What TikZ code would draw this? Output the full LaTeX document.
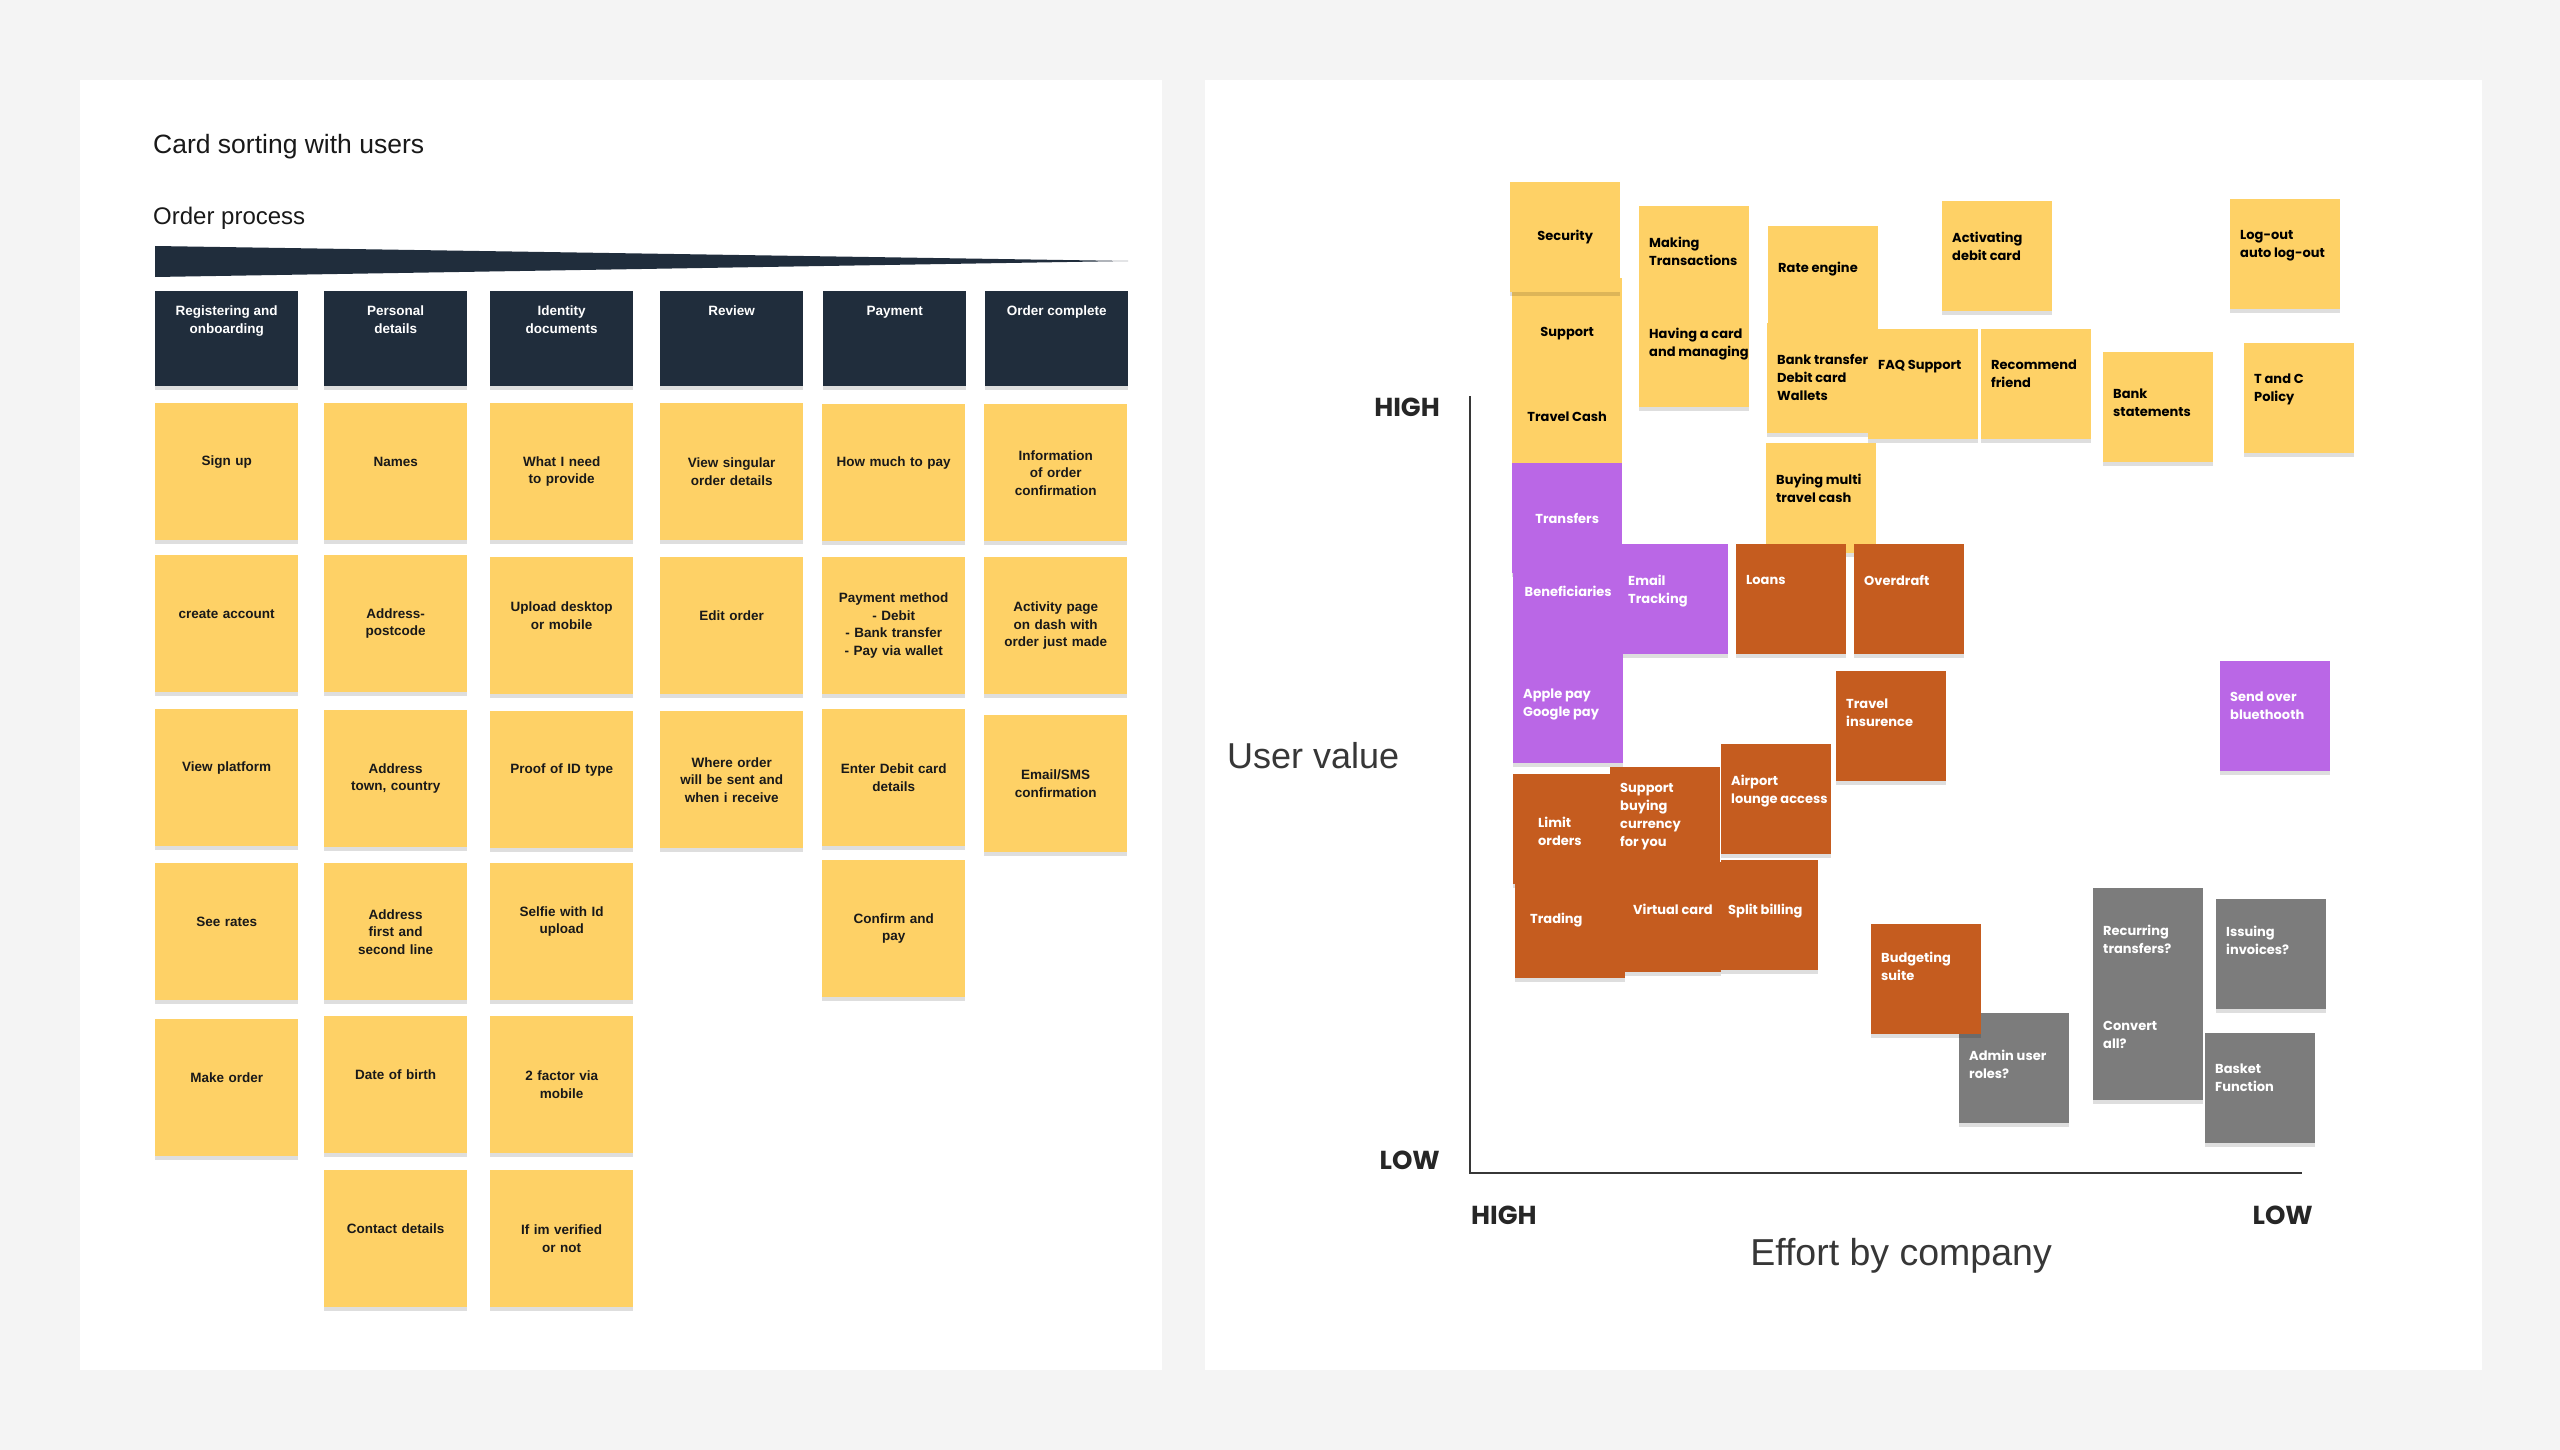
\documentclass[tikz,border=0pt]{standalone}
\usepackage{fontspec}
\setmainfont{Liberation Sans}
\newfontfamily\notefont{Poppins}
\usetikzlibrary{shadows}

\definecolor{bggray}{RGB}{244,244,244}
\definecolor{navy}{RGB}{32,45,60}
\definecolor{sticky}{RGB}{254,209,102}
\definecolor{notepurple}{RGB}{186,103,230}
\definecolor{noteorange}{RGB}{197,92,31}
\definecolor{notegray}{RGB}{124,124,124}
\definecolor{inkgray}{RGB}{55,55,55}

\tikzset{
  lift/.style={drop shadow={shadow xshift=0pt,shadow yshift=-4pt,opacity=.13,fill=black}},
  stagetext/.style={anchor=north,yshift=-15pt,inner sep=0pt,align=center,text=white,
    font=\fontsize{13.5}{17.5}\selectfont\bfseries},
  stage/.style={lift,fill=navy,anchor=north west,minimum width=143pt,minimum height=95pt,
    inner sep=0pt,label={[stagetext]north:{#1}}},
  cardtext/.style={anchor=center,inner sep=0pt,text width=135pt,align=center,text=black!90,
    font=\fontsize{13.5}{17.5}\selectfont\bfseries},
  cardbox/.style={lift,fill=sticky,anchor=north west,minimum width=143pt,minimum height=137pt,inner sep=0pt},
  card/.style={cardbox,label={[cardtext]center:{#1}}},
  cardhi/.style={cardbox,label={[cardtext,yshift=10pt]center:{#1}}},
  note/.style={lift,anchor=north west,minimum width=110pt,minimum height=110pt,inner sep=0pt,
    font=\notefont\fontsize{13}{18}\selectfont\bfseries},
  yel/.style={note,fill=sticky,text=black},
  pur/.style={note,fill=notepurple,text=white},
  ora/.style={note,fill=noteorange,text=white},
  gry/.style={note,fill=notegray,text=white},
  notetext/.style={anchor=north west,xshift=10pt,yshift=-31pt,inner sep=0pt,align=left,
    font=\notefont\fontsize{13}{18}\selectfont\bfseries},
  dk/.style={label={[notetext,text=black]north west:{#1}}},
  wt/.style={label={[notetext,text=white]north west:{#1}}},
  axislabel/.style={inner sep=0pt,text=black!85,font=\notefont\fontsize{26}{30}\selectfont\bfseries},
  axistitle/.style={inner sep=0pt,text=inkgray,font=\fontsize{36}{40}\selectfont},
  heading/.style={anchor=west,inner sep=0pt,text=black!90},
}

\begin{document}
\begin{tikzpicture}[x=1pt,y=-1pt]
\path[use as bounding box,fill=bggray] (0,0) rectangle (2560,1450);
\fill[white] (80,80) rectangle (1162,1370);
\fill[white] (1205,80) rectangle (2482,1370);

% card sorting
\node[heading,font=\fontsize{26.5}{30}\selectfont] (title) at (153,147) {Card sorting with users};
\node[heading,font=\fontsize{24}{28}\selectfont] (order) at (153,218) {Order process};
\fill[navy] (155,246) -- (1128,261) -- (155,277) -- cycle;

\node[stage={Registering and\\onboarding}] (reg) at (155,291) {};
\node[stage={Personal\\details}] (pers) at (324,291) {};
\node[stage={Identity\\documents}] (ident) at (490,291) {};
\node[stage={Review}] (review) at (660,291) {};
\node[stage={Payment}] (pay) at (823,291) {};
\node[stage={Order complete}] (done) at (985,291) {};

\node[cardhi={Sign up}] (signup) at (155,403) {};
\node[cardhi={create account}] (create) at (155,555) {};
\node[cardhi={View platform}] (platform) at (155,709) {};
\node[cardhi={See rates}] (rates) at (155,863) {};
\node[cardhi={Make order}] (makeorder) at (155,1019) {};

\node[cardhi={Names}] (names) at (324,403) {};
\node[card={Address-\\postcode}] (postcode) at (324,555) {};
\node[card={Address\\town, country}] (town) at (324,710) {};
\node[card={Address\\first and\\second line}] (lines) at (324,863) {};
\node[cardhi={Date of birth}] (birth) at (324,1016) {};
\node[cardhi={Contact details}] (contact) at (324,1170) {};

\node[card={What I need\\to provide}] (provide) at (490,403) {};
\node[cardhi={Upload desktop\\or mobile}] (upload) at (490,557) {};
\node[cardhi={Proof of ID type}] (proof) at (490,711) {};
\node[cardhi={Selfie with Id\\upload}] (selfie) at (490,863) {};
\node[card={2 factor via\\mobile}] (twofa) at (490,1016) {};
\node[card={If im verified\\or not}] (verified) at (490,1170) {};

\node[card={View singular\\order details}] (singular) at (660,403) {};
\node[cardhi={Edit order}] (edit) at (660,557) {};
\node[card={Where order\\will be sent and\\when i receive}] (where) at (660,711) {};

\node[cardhi={How much to pay}] (howmuch) at (822,404) {};
\node[card={Payment method\\- Debit\\- Bank transfer\\- Pay via wallet}] (method) at (822,557) {};
\node[card={Enter Debit card\\details}] (debit) at (822,709) {};
\node[card={Confirm and\\pay}] (confirm) at (822,860) {};

\node[card={Information\\of order\\confirmation}] (info) at (984,404) {};
\node[card={Activity page\\on dash with\\order just made}] (activity) at (984,557) {};
\node[card={Email/SMS\\confirmation}] (sms) at (984,715) {};

% value vs effort
\coordinate (ytop) at (1470,396);
\coordinate (xend) at (2302,1173);
\draw[inkgray,line width=2.5pt] (ytop) |- (xend);
\node[axislabel,anchor=east] (vhigh) at (1440,407) {HIGH};
\node[axislabel,anchor=east] (vlow) at (1440,1160) {LOW};
\node[axislabel,anchor=west] (hhigh) at (1471,1215) {HIGH};
\node[axislabel,anchor=east] (hlow) at (2313,1215) {LOW};
\node[axistitle,anchor=west] (uval) at (1227,756) {User value};
\node[axistitle,font=\fontsize{37.5}{40}\selectfont] (effort) at (1901,1256) {Effort by company};

\node[yel] (supp) at (1512,278) {Support};
\node[yel] (cash) at (1512,362) {Travel Cash};
\node[yel] (secu) at (1510,182) {Security};
\node[yel,dk={Making\\Transactions}] (making) at (1639,206) {};
\node[yel,dk={Having a card\\and managing}] (having) at (1639,297) {};
\node[yel,label={[notetext,text=black,yshift=-5pt]north west:Rate engine}] (rate) at (1768,226) {};
\node[yel,dk={Bank transfer\\Debit card\\Wallets}] (bank) at (1767,323) {};
\node[yel,dk={FAQ Support}] (faq) at (1868,329) {};
\node[yel,dk={Recommend\\friend}] (reco) at (1981,329) {};
\node[yel,dk={Activating\\debit card}] (actv) at (1942,201) {};
\node[yel,dk={Log-out\\auto log-out}] (logout) at (2230,199) {};
\node[yel,label={[notetext,text=black,yshift=-6pt]north west:{Bank\\statements}}] (stmt) at (2103,352) {};
\node[yel,dk={T and C\\Policy}] (tandc) at (2244,343) {};
\node[yel,dk={Buying multi\\travel cash}] (buying) at (1766,443) {};

\node[pur] (trans) at (1512,463) {Transfers};
\node[pur,label={[notetext,text=white,anchor=north,xshift=-10pt,yshift=-2pt]north:Beneficiaries}] (bene) at (1513,553) {};
\node[pur,wt={Email\\Tracking}] (email) at (1618,544) {};
\node[pur,label={[notetext,text=white,yshift=-5pt]north west:{Apple pay\\Google pay}}] (apple) at (1513,653) {};
\node[pur,wt={Send over\\bluethooth}] (blue) at (2220,661) {};

\node[ora,wt={Loans}] (loans) at (1736,544) {};
\node[ora,wt={Overdraft}] (over) at (1854,544) {};
\node[ora,label={[notetext,text=white,yshift=3pt]north west:{Travel\\insurence}}] (insur) at (1836,671) {};
\node[ora,label={[notetext,text=white,xshift=15pt,yshift=-12pt]north west:{Limit\\orders}}] (limit) at (1513,774) {};
\node[ora,label={[notetext,text=white,yshift=15pt]north west:{Support\\buying\\currency\\for you}}] (curr) at (1610,767) {};
\node[ora,wt={Airport\\lounge access}] (lounge) at (1721,744) {};
\node[ora,label={[notetext,text=white,xshift=5pt,yshift=-14pt]north west:Trading}] (trading) at (1515,868) {};
\node[ora,minimum width=96pt,label={[notetext,text=white,xshift=-2pt,yshift=-11pt]north west:Virtual card}] (virtual) at (1625,862) {};
\node[ora,minimum width=97pt,label={[notetext,text=white,xshift=-3pt,yshift=-13pt]north west:Split billing}] (split) at (1721,860) {};

\node[gry,label={[notetext,text=white,yshift=-6pt]north west:{Admin user\\roles?}}] (admin) at (1959,1013) {};
\node[ora,label={[notetext,text=white,yshift=3pt]north west:{Budgeting\\suite}}] (budget) at (1871,924) {};
\node[gry,label={[notetext,text=white,yshift=-6pt]north west:{Recurring\\transfers?}}] (recur) at (2093,888) {};
\node[gry,wt={Convert\\all?}] (convert) at (2093,990) {};
\node[gry,label={[notetext,text=white,yshift=4pt]north west:{Issuing\\invoices?}}] (invoice) at (2216,899) {};
\node[gry,wt={Basket\\Function}] (basket) at (2205,1033) {};
\end{tikzpicture}
\end{document}
